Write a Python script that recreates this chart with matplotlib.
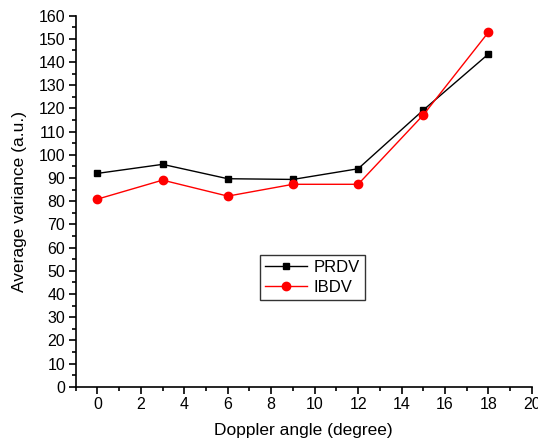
import matplotlib
matplotlib.use("Agg")
import matplotlib.pyplot as plt
from matplotlib.ticker import MultipleLocator

plt.rcParams['font.family'] = ['Liberation Sans', 'DejaVu Sans']

angles = [0, 3, 6, 9, 12, 15, 18]
prdv = [92.0, 95.9, 89.7, 89.4, 94.0, 119.3, 143.5]
ibdv = [80.9, 89.1, 82.2, 87.3, 87.3, 117.2, 152.9]

fig = plt.figure(figsize=(5.38, 4.44), dpi=100)
ax = fig.add_axes([0.1407, 0.129, 0.848, 0.8356])

ax.plot(angles, prdv, color='black', lw=1, marker='s', markersize=5, label='PRDV')
ax.plot(angles, ibdv, color='red', lw=1, marker='o', markersize=6, label='IBDV')

ax.set_xlim(-1, 20)
ax.set_ylim(0, 160)
ax.xaxis.set_major_locator(MultipleLocator(2))
ax.xaxis.set_minor_locator(MultipleLocator(1))
ax.yaxis.set_major_locator(MultipleLocator(10))
ax.yaxis.set_minor_locator(MultipleLocator(5))
for s in ['top', 'right']:
    ax.spines[s].set_visible(False)
for s in ['left', 'bottom']:
    ax.spines[s].set_linewidth(1.2)
ax.tick_params(which='major', direction='out', length=5, width=1.2, labelsize=11.5, pad=2.5)
ax.tick_params(which='minor', direction='out', length=3, width=1.2)

ax.set_xlabel('Doppler angle (degree)', fontsize=12.5, labelpad=8)
ax.set_ylabel('Average variance (a.u.)', fontsize=12.5, labelpad=8)

leg = ax.legend(loc='upper left', bbox_to_anchor=(0.404, 0.355), frameon=True, fancybox=False,
                edgecolor='black', fontsize=12, handlelength=2.5, numpoints=1,
                borderpad=0.3, labelspacing=0.3, handletextpad=0.4, borderaxespad=0)
leg.get_frame().set_linewidth(1)

fig.savefig('out.png', dpi=100)
